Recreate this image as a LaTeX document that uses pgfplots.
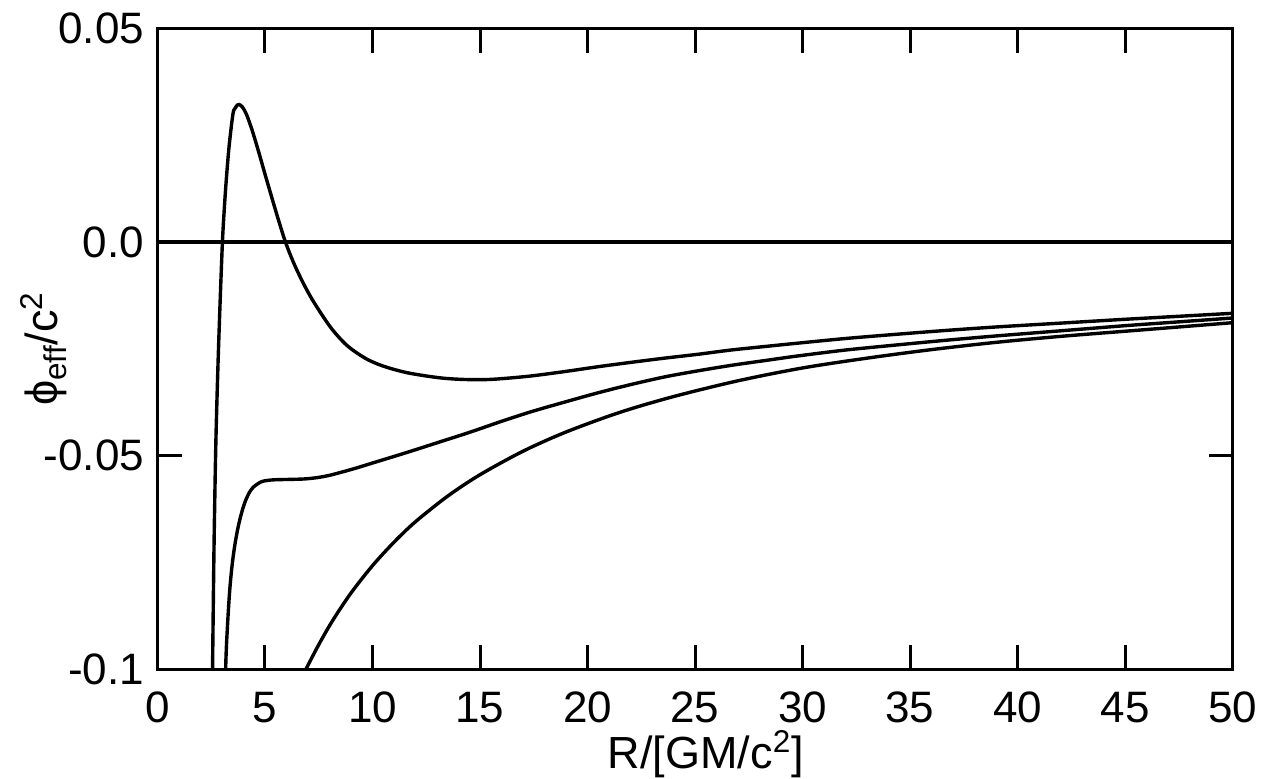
\documentclass[border=0pt]{standalone}
\usepackage{fontspec}
\setmainfont{Liberation Sans}
\usepackage{pgfplots}
\pgfplotsset{compat=1.18}

\begin{document}
\begin{tikzpicture}
\begin{axis}[
    scale only axis,
    width=537.5pt, height=320.25pt,
    xmin=0, xmax=50, ymin=-0.1, ymax=0.05,
    xtick={0,5,10,15,20,25,30,35,40,45,50},
    xticklabels={0,5,10,15,20,25,30,35,40,45,50},
    ytick={-0.1,-0.05,0,0.05},
    yticklabels={-0.1,-0.05,0.0,0.05},
    tick align=inside,
    major tick length=12pt,
    axis line style={line width=1.5pt},
    every tick/.style={line width=1.5pt, black},
    tick label style={font=\fontsize{22}{26}\selectfont},
    xticklabel style={anchor=base, yshift=-26.5pt},
    yticklabel style={inner sep=6.5pt},
    label style={font=\fontsize{22.5}{27}\selectfont},
    xlabel={R/[GM/c\textsuperscript{2}]},
    xlabel style={at={(axis description cs:0.5,0)}, anchor=base, yshift=-49.5pt, xshift=5.5pt},
    ylabel={ϕ\textsubscript{eff}/c\textsuperscript{2}},
    ylabel style={at={(axis description cs:-0.0926,0.5)}, anchor=base},
    curve/.style={black, line width=1.7pt, no marks},
]
\coordinate (SW) at (rel axis cs:0,0);
\coordinate (NE) at (rel axis cs:1,1);

% zero line
\addplot[curve] coordinates {(0,0) (50,0)};

% curve with the barrier
\addplot[curve, smooth] coordinates {
(2.50,-0.126) (2.56,-0.1) (2.63,-0.071) (2.71,-0.048) (2.80,-0.031)
(2.90,-0.0158) (3.02,0) (3.11,0.0080) (3.20,0.0146) (3.33,0.0224)
(3.51,0.0300) (3.62,0.0314) (3.72,0.0321) (3.79,0.0322) (3.87,0.0320)
(3.95,0.0316) (4.13,0.0300) (4.4,0.0262) (4.7,0.0212) (5.0,0.0159)
(5.3,0.0107) (5.6,0.0056) (5.95,0.0) (6.3,-0.0045) (6.6,-0.0078)
(6.9,-0.0108) (7.2,-0.0135) (7.5,-0.0159) (7.8,-0.0182) (8.1,-0.0203)
(8.4,-0.0221) (8.7,-0.0237) (9.0,-0.0250) (9.4,-0.0264) (9.8,-0.0276)
(10.3,-0.0287) (10.9,-0.0297) (11.6,-0.0306) (12.4,-0.0313) (13.3,-0.0319)
(14.3,-0.0322) (15.4,-0.0322) (16.5,-0.0318) (17.5,-0.0313) (19.0,-0.0303)
(20.5,-0.0292) (22.0,-0.0282) (23.58,-0.0272) (25.13,-0.0263) (26.67,-0.0253)
(28.2,-0.0245) (29.76,-0.0237) (32.0,-0.0226) (34.4,-0.0216) (36.7,-0.0207)
(39.0,-0.0199) (42.0,-0.0190) (45.0,-0.0181) (47.5,-0.0174) (50.0,-0.0167)};

% marginal curve
\addplot[curve, smooth] coordinates {
(3.05,-0.13) (3.17,-0.1) (3.26,-0.0895) (3.36,-0.0815) (3.47,-0.0757)
(3.59,-0.0712) (3.72,-0.0675) (3.84,-0.0648) (3.97,-0.0624) (4.1,-0.0605)
(4.28,-0.0586) (4.46,-0.0574) (4.7,-0.0565) (4.92,-0.0560) (5.39,-0.0557)
(6.14,-0.0556) (6.8,-0.0555) (7.4,-0.0552) (7.95,-0.0547) (8.49,-0.0540)
(9.2,-0.0530) (10.04,-0.0517) (11.59,-0.0493) (13.14,-0.0468) (14.5,-0.0446)
(16.0,-0.0420) (17.41,-0.0397) (19.0,-0.0374) (20.5,-0.0353) (22.0,-0.0334)
(23.58,-0.0316) (25.1,-0.0302) (26.67,-0.0289) (28.2,-0.0278) (29.76,-0.0267)
(32.0,-0.0253) (34.4,-0.0241) (36.7,-0.0230) (39.0,-0.0220) (42.0,-0.0208)
(45.0,-0.0196) (47.5,-0.0187) (50.0,-0.0178)};

% lowest curve
\addplot[curve, smooth] coordinates {
(6.5,-0.1043) (6.91,-0.1000) (7.5,-0.0943) (8.14,-0.0887) (9.0,-0.0822)
(10.0,-0.0758) (11.0,-0.0703) (12.0,-0.0655) (13.5,-0.0595) (15.0,-0.0545)
(17.0,-0.0490) (19.0,-0.0445) (21.5,-0.0399) (24.0,-0.0362) (27.0,-0.0325)
(30.0,-0.0295) (33.0,-0.0272) (36.0,-0.0252) (39.0,-0.0235) (42.0,-0.0221)
(45.0,-0.0209) (47.5,-0.0199) (50.0,-0.0189)};
\end{axis}
\pgfresetboundingbox
\path[use as bounding box] ([shift={(-78.75pt,-54.5pt)}]SW) rectangle ([shift={(18.25pt,14.25pt)}]NE);
\end{tikzpicture}
\end{document}
